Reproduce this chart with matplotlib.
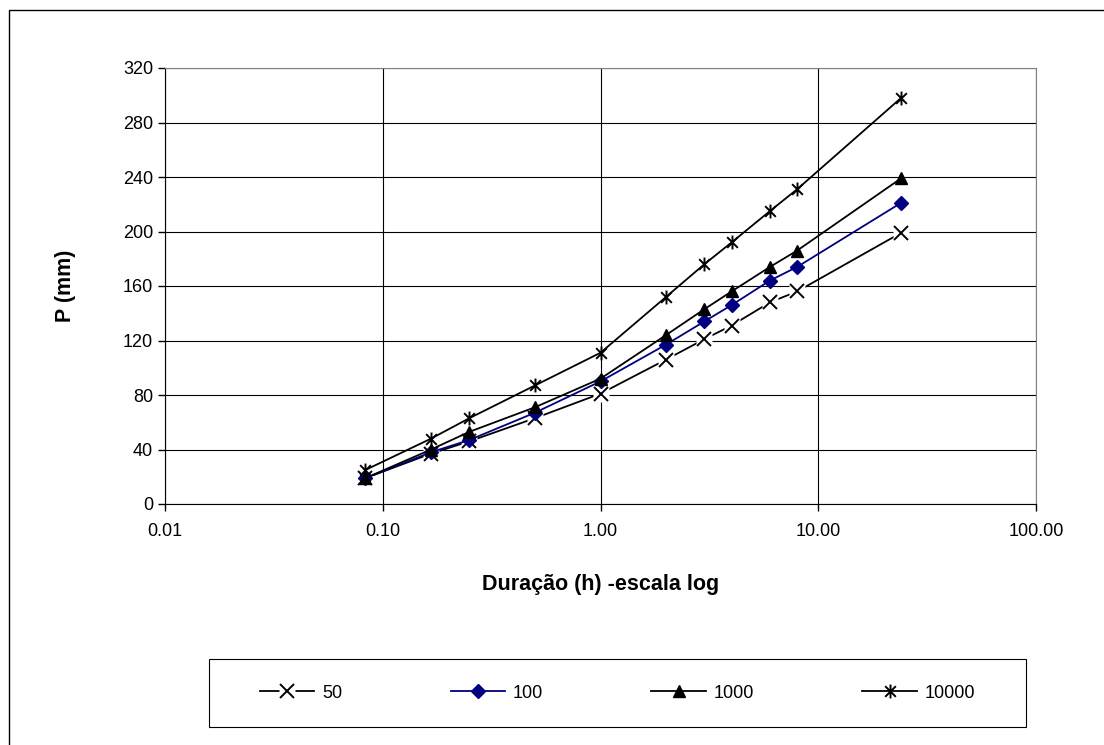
import matplotlib.pyplot as plt
import numpy as np
from matplotlib.path import Path
from matplotlib.patches import Rectangle
from matplotlib.legend_handler import HandlerTuple

plt.rcParams['font.family'] = ['Liberation Sans', 'DejaVu Sans']

## Dados: duração (h) e precipitação (mm) por período de retorno
duracao = [0.0833, 0.1667, 0.25, 0.5, 1.0, 2.0, 3.0, 4.0, 6.0, 8.0, 24.0]
p50 = [19, 37, 46, 63, 81, 106, 121, 131, 148, 156, 199]
p100 = [19, 38, 47, 67, 90, 117, 134, 146, 164, 174, 221]
p1000 = [19, 40, 53, 71, 92, 124, 143, 156, 174, 186, 239]
p10000 = [25, 48, 63, 87, 111, 152, 176, 192, 215, 231, 298]
yticks = [0, 40, 80, 120, 160, 200, 240, 280, 320]
xticks = [0.01, 0.1, 1, 10, 100]
xticklabels = ['0.01', '0.10', '1.00', '10.00', '100.00']

## Marcador asterisco (X + barra vertical)
ast = Path([(-1, -1), (1, 1), (-1, 1), (1, -1), (0, -1.3), (0, 1.3)],
           [Path.MOVETO, Path.LINETO, Path.MOVETO, Path.LINETO, Path.MOVETO, Path.LINETO])

fig = plt.figure(figsize=(11.04, 7.45), dpi=100)
ax = fig.add_axes([165 / 1104, 1 - 504 / 745, (1036 - 165) / 1104, (504 - 68) / 745])

## Borda externa (só topo e esquerda visíveis)
fig.patches.append(Rectangle((9 / 1104, -0.05), 1.2, 1 - 10 / 745 + 0.05, transform=fig.transFigure,
                             fill=False, edgecolor='black', linewidth=1.0))

l50a, = ax.plot(duracao, p50, color='black', lw=1.3, marker='s', ms=11,
                mfc='white', mec='none', zorder=3)
l50b, = ax.plot(duracao, p50, color='black', lw=0, marker='x', ms=10, mew=1.4, zorder=4)
l100, = ax.plot(duracao, p100, color='#000080', lw=1.3, marker='D', ms=7, zorder=5)
l1000, = ax.plot(duracao, p1000, color='black', lw=1.3, marker='^', ms=9, zorder=6)
l10000, = ax.plot(duracao, p10000, color='black', lw=1.3, marker=ast, ms=10, mew=1.4, zorder=7)

ax.set_xscale('log')
ax.set_xlim(0.01, 100)
ax.set_ylim(0, 320)
ax.set_xticks(xticks)
ax.set_xticklabels(xticklabels)
ax.xaxis.set_minor_locator(plt.NullLocator())
ax.set_yticks(yticks)
ax.tick_params(labelsize=13, direction='out', length=5, width=1, colors='black')
ax.tick_params(axis='x', pad=9)
ax.grid(True, color='black', linewidth=0.8, zorder=0)
ax.set_axisbelow(True)
for s in ax.spines.values():
    s.set_color('#808080')
ax.spines['left'].set_color('black')
ax.spines['bottom'].set_color('black')

ax.set_xlabel('Duração (h) -escala log', fontsize=15.5, fontweight='bold', labelpad=24)
ax.set_ylabel('P (mm)', fontsize=15.5, fontweight='bold', labelpad=34)

leg = fig.legend([(l50a, l50b), l100, l1000, l10000], ['50', '100', '1000', '10000'],
                 handler_map={tuple: HandlerTuple(ndivide=1)},
                 ncol=4, loc='center',
                 bbox_to_anchor=(209 / 1104, 1 - 727 / 745, (1026 - 209) / 1104, 68 / 745),
                 fontsize=13, frameon=False,
                 handlelength=3.0, handletextpad=0.45, borderaxespad=0, borderpad=0,
                 columnspacing=6.0)
## Caixa da legenda
fig.patches.append(Rectangle((209 / 1104, 1 - 727 / 745), (1026 - 209) / 1104, 68 / 745,
                             transform=fig.transFigure, fill=False, edgecolor='black',
                             linewidth=0.8))

plt.savefig('out.png', dpi=100)
